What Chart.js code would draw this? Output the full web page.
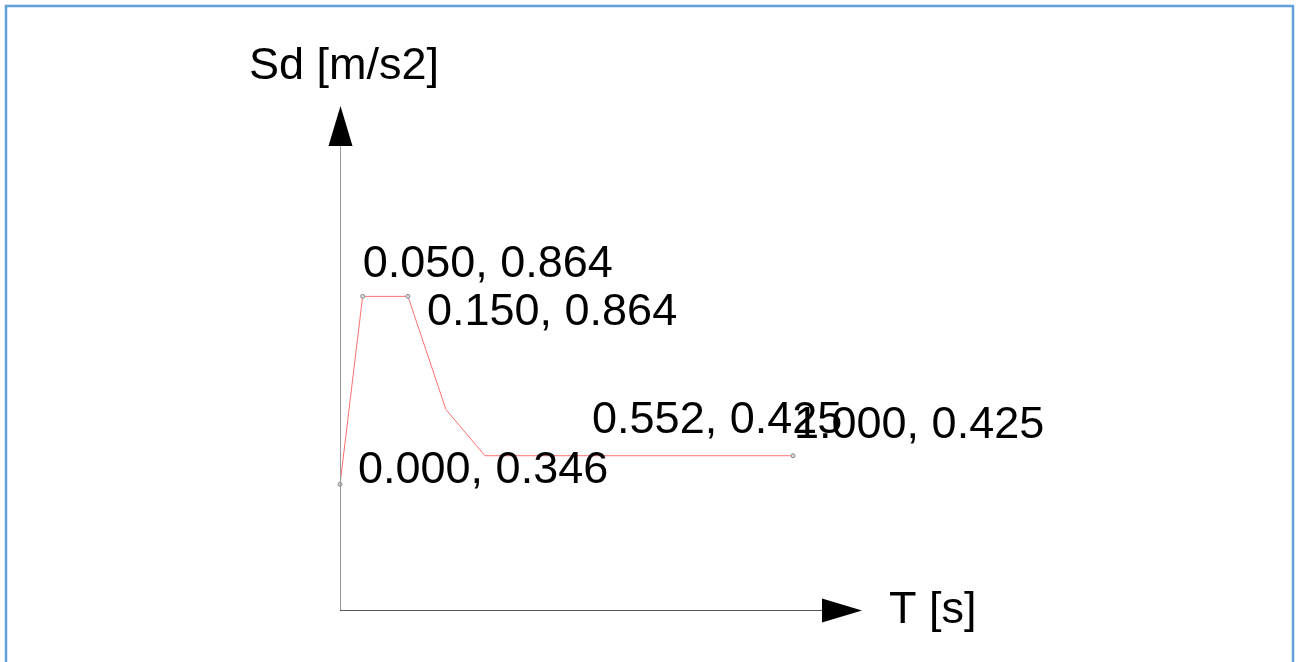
<!DOCTYPE html>
<html>
<head>
<meta charset="utf-8">
<script src="https://cdn.jsdelivr.net/npm/chart.js@4"></script>
<style>
  html, body { margin: 0; padding: 0; background: #fff; }
  canvas { display: block; }
</style>
</head>
<body>
<canvas id="grafico" width="1300" height="662"></canvas>
<script>
// spectrum points
const tValues = [0.000, 0.050, 0.150, 0.234, 0.320, 1.000]
const sdValues = [0.346, 0.864, 0.864, 0.552, 0.425, 0.425]
const markerShown = [true, true, true, false, false, true]

// point labels
const labelT = [0.000, 0.050, 0.150, 0.552, 1.000]
const labelSd = [0.346, 0.864, 0.864, 0.425, 0.425]
const labelTexts = ['0.000, 0.346', '0.050, 0.864', '0.150, 0.864', '0.552, 0.425', '1.000, 0.425']

const xTitle = 'T [s]'
const yTitle = 'Sd [m/s2]'

// where each label sits relative to its point (px)
const labelOffsets = [[18, -1], [0, -19], [19, 29], [2, -23], [1, -18]]

const dibujoEjes = {
    id: 'dibujoEjes',
    beforeDraw(chart) {
        const ctx = chart.ctx
        ctx.save()
        ctx.fillStyle = '#fff'
        ctx.fillRect(0, 0, chart.width, chart.height)
        // frame
        ctx.strokeStyle = '#62a0dc'
        ctx.lineWidth = 2.5
        ctx.strokeRect(6, 6, 1287, 700)
        ctx.restore()
    },
    afterDatasetsDraw(chart) {
        const ctx = chart.ctx
        const x = chart.scales.x
        const y = chart.scales.y
        const x0 = x.getPixelForValue(0)
        const y0 = y.getPixelForValue(0)
        ctx.save()
        // y axis
        ctx.strokeStyle = '#999'
        ctx.lineWidth = 1
        ctx.beginPath()
        ctx.moveTo(x0 + 0.5, y0)
        ctx.lineTo(x0 + 0.5, 146)
        ctx.stroke()
        ctx.fillStyle = '#000'
        ctx.beginPath()
        ctx.moveTo(x0 + 0.5, 106)
        ctx.lineTo(x0 - 11.5, 146)
        ctx.lineTo(x0 + 12.5, 146)
        ctx.closePath()
        ctx.fill()
        // x axis
        ctx.strokeStyle = '#555'
        ctx.beginPath()
        ctx.moveTo(x0, y0 + 0.5)
        ctx.lineTo(822, y0 + 0.5)
        ctx.stroke()
        ctx.beginPath()
        ctx.moveTo(862, y0 + 0.5)
        ctx.lineTo(822, y0 - 11.5)
        ctx.lineTo(822, y0 + 12.5)
        ctx.closePath()
        ctx.fill()

        ctx.font = '45px "Liberation Sans", Arial, sans-serif'
        ctx.textAlign = 'left'
        ctx.textBaseline = 'alphabetic'
        ctx.fillStyle = '#000'
        ctx.fillText(yTitle, 249, 79)
        ctx.fillText(xTitle, 889, 623)

        labelTexts.forEach((txt, i) => {
            let px = x.getPixelForValue(labelT[i]) + labelOffsets[i][0]
            let py = y.getPixelForValue(labelSd[i]) + labelOffsets[i][1]
            ctx.fillText(txt, px, py)
        })
        ctx.restore()
    }
}

new Chart(document.getElementById('grafico'), {
    type: 'line',
    data: {
        datasets: [{
            data: tValues.map((t, i) => ({ x: t, y: sdValues[i] })),
            borderColor: '#ff7070',
            borderWidth: 1,
            pointRadius: markerShown.map(m => m ? 2 : 0),
            pointBorderColor: '#888',
            pointBackgroundColor: '#ddd',
            pointBorderWidth: 1,
            tension: 0,
            fill: false,
            clip: false
        }]
    },
    options: {
        responsive: false,
        animation: false,
        layout: { padding: { left: 340, right: 507, top: 247, bottom: 52 } },
        plugins: { legend: { display: false }, tooltip: { enabled: false } },
        scales: {
            x: { type: 'linear', min: 0, max: 1, display: false },
            y: { type: 'linear', min: 0, max: 1, display: false }
        }
    },
    plugins: [dibujoEjes]
});
</script>
</body>
</html>
